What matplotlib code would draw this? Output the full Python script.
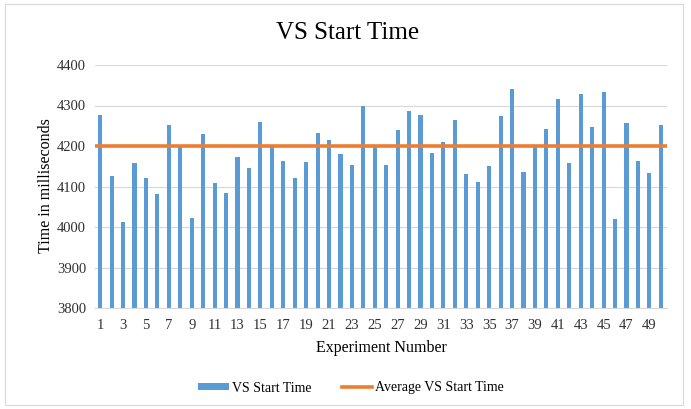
import matplotlib
matplotlib.use("Agg")
import matplotlib.pyplot as plt
from matplotlib.patches import Rectangle
from matplotlib.lines import Line2D
from matplotlib.patches import Patch

experiments = list(range(1, 51))
start_times = [4277, 4126, 4013, 4159, 4121, 4081, 4253, 4200, 4023, 4229,
               4109, 4085, 4173, 4146, 4260, 4200, 4164, 4122, 4160, 4232,
               4215, 4180, 4152, 4299, 4200, 4153, 4239, 4287, 4277, 4183,
               4210, 4263, 4131, 4111, 4150, 4273, 4340, 4137, 4200, 4241,
               4316, 4157, 4329, 4246, 4334, 4019, 4256, 4163, 4134, 4253]
average_time = 4201
y_ticks = [3800, 3900, 4000, 4100, 4200, 4300, 4400]
x_tick_labels = [str(i) for i in range(1, 51, 2)]

plt.rcParams['font.family'] = ['Liberation Serif', 'DejaVu Serif']

fig = plt.figure(figsize=(6.91, 4.09), dpi=100)
fig.patches.append(Rectangle((5/691, 4/409), 678/691, 401/409, transform=fig.transFigure,
                             fill=False, edgecolor='#d9d9d9', linewidth=0.8))
ax = fig.add_axes([94.5/691, 101/409, 572/691, 243/409])

blue = '#5B9BD5'
orange = '#ED7D31'
ax.bar(experiments, start_times, width=0.36, color=blue, zorder=2)
ax.plot([0.5, 50.5], [average_time, average_time], color=orange, linewidth=2.6, zorder=3)

ax.set_xlim(0.5, 50.5)
ax.set_ylim(3800, 4400)
ax.set_yticks(y_ticks)
ax.set_xticks(range(1, 51, 2))
ax.set_xticklabels(x_tick_labels)
ax.yaxis.grid(True, color='#d9d9d9', linewidth=0.9, zorder=0)
ax.set_axisbelow(True)
for s in ['top', 'right', 'left']:
    ax.spines[s].set_visible(False)
ax.spines['bottom'].set_color('#d9d9d9')
ax.tick_params(axis='both', length=0, labelsize=10.5, colors='#303030', pad=6)
ax.tick_params(axis='x', pad=8)

fig.text(348/691, 1 - 33/409, 'VS Start Time', ha='center', va='center', fontsize=18, color='#000000')
fig.text(381/691, 1 - 348/409, 'Experiment Number', ha='center', va='center', fontsize=11.5, color='#000000')
fig.text(46/691, 1 - 186/409, 'Time in milliseconds', ha='center', va='center', rotation=90, fontsize=11.5, color='#000000')

handles = [Patch(facecolor=blue, edgecolor='none'),
           Line2D([0], [0], color=orange, linewidth=2.6)]
fig.legend(handles, ['VS Start Time', 'Average VS Start Time'], loc='center',
           bbox_to_anchor=(351/691, 1 - 388/409), ncol=2, frameon=False,
           fontsize=10, handlelength=2.2, handleheight=0.45, columnspacing=2.2,
           handletextpad=0.2)

fig.savefig('out.png', dpi=100)
